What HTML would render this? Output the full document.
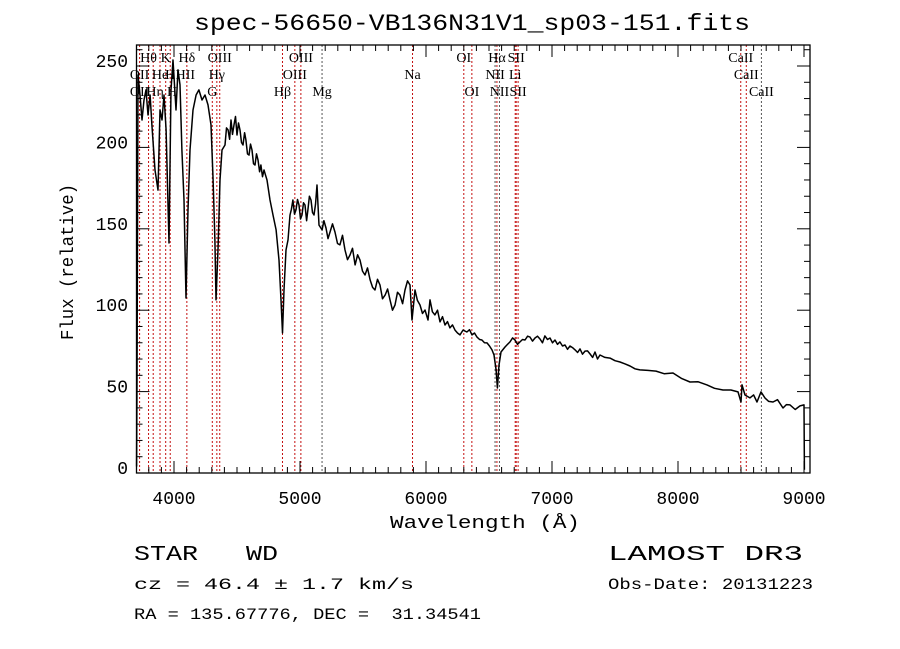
<!DOCTYPE html>
<html><head><meta charset="utf-8">
<style>
html,body{margin:0;padding:0;background:#fff;}
svg{display:block;}
text{font-family:"Liberation Mono","DejaVu Sans Mono",monospace;fill:#000;white-space:pre;}
.ser{font-family:"Liberation Serif",serif;}
</style></head>
<body>
<svg id="chart" width="900" height="649" viewBox="0 0 900 649" xmlns="http://www.w3.org/2000/svg" xml:space="preserve">
<rect x="0" y="0" width="900" height="649" fill="#fff"/>
<text x="472" y="30" font-size="23" text-anchor="middle" textLength="556" lengthAdjust="spacingAndGlyphs">spec-56650-VB136N31V1_sp03-151.fits</text>
<g id="lines"></g>
<g id="labels"></g>
<g id="series"></g>
<g id="axes"></g>
<text x="485" y="528" font-size="18" text-anchor="middle" textLength="190" lengthAdjust="spacingAndGlyphs">Wavelength (Å)</text>
<text transform="translate(73,262) rotate(-90)" font-size="18" text-anchor="middle" textLength="156" lengthAdjust="spacingAndGlyphs">Flux (relative)</text>
<text x="134" y="560" font-size="21" textLength="144" lengthAdjust="spacingAndGlyphs">STAR   WD</text>
<text x="608" y="560" font-size="21" textLength="195" lengthAdjust="spacingAndGlyphs">LAMOST DR3</text>
<text x="134" y="589" font-size="16" textLength="280" lengthAdjust="spacingAndGlyphs">cz = 46.4 ± 1.7 km/s</text>
<text x="608" y="589" font-size="16" textLength="205" lengthAdjust="spacingAndGlyphs">Obs-Date: 20131223</text>
<text x="134" y="619" font-size="16" textLength="347" lengthAdjust="spacingAndGlyphs">RA = 135.67776, DEC =  31.34541</text>
</svg>
<script>
const wavelengths=[3703,3706,3714,3730,3746,3762,3778,3794,3810,3825,3849,3873,3889,3905,3921,3937,3960,3976,3992,4016,4032,4048,4063,4079,4095,4111,4127,4151,4175,4198,4222,4246,4270,4294,4310,4325,4333,4349,4365,4381,4405,4417,4429,4441,4452,4464,4476,4488,4500,4512,4524,4536,4548,4560,4571,4583,4595,4607,4619,4631,4643,4655,4667,4679,4690,4702,4714,4726,4738,4762,4786,4810,4833,4849,4861,4873,4889,4905,4921,4932,4944,4956,4968,4980,4992,5004,5016,5028,5040,5052,5063,5075,5087,5099,5111,5123,5135,5151,5175,5190,5206,5222,5238,5258,5278,5298,5317,5337,5357,5377,5397,5417,5437,5457,5476,5496,5516,5536,5556,5576,5595,5615,5635,5655,5675,5695,5714,5734,5754,5774,5794,5814,5833,5853,5873,5889,5913,5932,5952,5972,5992,6016,6032,6051,6071,6091,6111,6131,6151,6171,6190,6210,6230,6250,6270,6294,6325,6345,6365,6385,6405,6425,6444,6464,6484,6504,6524,6540,6556,6567,6579,6595,6627,6647,6667,6687,6706,6726,6746,6766,6786,6806,6825,6845,6865,6885,6905,6925,6944,6964,6984,7004,7024,7044,7063,7083,7103,7123,7143,7163,7183,7203,7222,7242,7262,7282,7302,7322,7341,7361,7381,7420,7460,7500,7540,7580,7619,7659,7698,7760,7825,7890,7960,8030,8095,8160,8230,8290,8357,8420,8476,8500,8508,8532,8571,8600,8627,8659,8690,8720,8754,8790,8833,8860,8889,8930,8968,9000,9003];
const fluxes=[4,55,244.5,232.2,216.8,229.1,235.3,219.9,232.2,213.8,186.1,173.8,223.0,216.8,232.2,210.7,141.3,235.3,253.7,223.0,247.6,238.4,198.4,167.7,107.5,161.6,198.4,223.0,232.2,235.3,229.1,232.2,226.1,213.8,180.0,143.1,106.3,137.0,180.0,198.4,201.5,212,210.7,205,216.8,208,213.8,219,207.6,215,210.7,203,201.5,209,204.6,196,195.3,202,198.4,190,189.2,196,192.3,185,189.2,182,186.1,183,180.0,167.7,158.5,149.3,130.8,106.3,86.0,112.4,137.0,143.1,158.5,162,167.7,159,161.6,168,164.6,156,158.5,166,164.6,155,161.6,170,167.7,160,158.5,165,176.9,152.3,149.3,155,150.5,144,148.0,153,148.0,141,140.1,146,137.0,131,133.9,138,127.8,134,130.8,124,121.6,126,118.6,114,112.4,119,115.5,107,109.3,113,106.3,100,103.2,111,109.3,104,112.4,118,115.5,94.0,112.4,106,103.2,98,100.1,94.0,106.3,99,97.1,100,92.8,96,90.9,93,89.1,91,87.8,86,84.8,87.8,86.6,88,84.8,86,83.5,82,81.7,80,79.9,78,75.6,72.5,63.3,52.2,66.3,74.3,77.4,79,80.5,83,81.7,79,80.5,82,81.7,84,83.5,81,82.9,84,82.3,80,84.2,82,82.9,80,81.7,79,80.5,78,78.6,76,78.0,77,75.6,74,76.2,73,74.9,75,73.1,71,74.3,70,72.5,71,70.6,69,68.2,67,65.7,64,63.3,63,62.6,61,61.4,58,55.9,56,54.1,52,51.0,51,49.8,43.6,54.1,47.9,46.1,48,43.6,49.8,46.1,44,43.6,45,39.9,42,41.8,39,41.2,41.8,2];
const lineWaves=[3727,3798,3835,3889,3934,3970,4102,4304,4340,4363,4861,4959,5007,5175,5893,6300,6364,6548,6563,6583,6708,6716,6731,8498,8542,8662];
const lineColors=["r","r","r","r","r","r","r","r","r","r","r","r","r","g","r","r","r","g","r","g","r","r","r","r","r","g"];
const labelNames=["Hθ","K","Hδ","OIII","OIII","OI","Hα","SII","CaII","OII","He","H","HII","Hγ","OIII","Na","NII","Li","CaII","OII","Hη","H","G","Hβ","Mg","OI","NII","SII","CaII"];
const labelWaves=[3798,3934,4102,4363,5007,6300,6563,6716,8498,3727,3889,3970,4090,4340,4959,5893,6548,6708,8542,3727,3850,3985,4304,4861,5175,6364,6583,6731,8662];
const labelRows=[0,0,0,0,0,0,0,0,0,1,1,1,1,1,1,1,1,1,1,2,2,2,2,2,2,2,2,2,2];
const yTickValues=[0,50,100,150,200,250];
const xTickValues=[4000,5000,6000,7000,8000,9000];

const NS="http://www.w3.org/2000/svg";
const L=136.5,R=810,T=45,B=473;
function xs(w){return 174+(w-4000)*0.126;}
function ys(f){return 473-f*1.628;}
function mk(tag,attrs,parent){const e=document.createElementNS(NS,tag);for(const k in attrs)e.setAttribute(k,attrs[k]);parent.appendChild(e);return e;}

const gl=document.getElementById('lines');
lineWaves.forEach((w,i)=>{
  const l=mk('line',{x1:xs(w),x2:xs(w),y1:T,y2:B,stroke:lineColors[i]==="r"?"#c41010":"#555",'stroke-width':1,'stroke-dasharray':'2,2'},gl);
  
  
});
const glab=document.getElementById('labels');
labelNames.forEach((n,i)=>{
  const t=mk('text',{x:xs(labelWaves[i]),y:62+labelRows[i]*17,'font-size':14,'text-anchor':'middle','class':'ser'},glab);
  t.textContent=n;
  
  
});
const gs=document.getElementById('series');
let d="";
wavelengths.forEach((w,i)=>{d+=(i?"L":"M")+xs(w).toFixed(1)+","+ys(fluxes[i]).toFixed(1);});
const p=mk('path',{d:d,fill:'none',stroke:'#000','stroke-width':1.5,'stroke-linejoin':'round'},gs);



const ga=document.getElementById('axes');
const frame=mk('rect',{x:L,y:T,width:R-L,height:B-T,fill:'none',stroke:'#000','stroke-width':1.3},ga);


for(let v=0;v<=260;v+=10){
  const y=ys(v);if(y<T)break;
  const len=v%50===0?13:6;
  const t1=mk('line',{x1:L,x2:L+len,y1:y,y2:y,stroke:'#000'},ga);
  
  
  const t2=mk('line',{x1:R,x2:R-len,y1:y,y2:y,stroke:'#000'},ga);
  
  
}
for(let w=3800;w<=9000;w+=100){
  const x=xs(w);
  const len=w%1000===0?12:6;
  const t1=mk('line',{x1:x,x2:x,y1:B,y2:B-len,stroke:'#000'},ga);
  
  
  const t2=mk('line',{x1:x,x2:x,y1:T,y2:T+len,stroke:'#000'},ga);
  
  
}
yTickValues.forEach(v=>{
  const t=mk('text',{x:128,y:ys(v)+1,'font-size':18,'text-anchor':'end'},ga);
  t.textContent=String(v);
  
  
});
xTickValues.forEach(v=>{
  const t=mk('text',{x:xs(v),y:504,'font-size':18,'text-anchor':'middle'},ga);
  t.textContent=String(v);
  
  
});
</script>
</body></html>
